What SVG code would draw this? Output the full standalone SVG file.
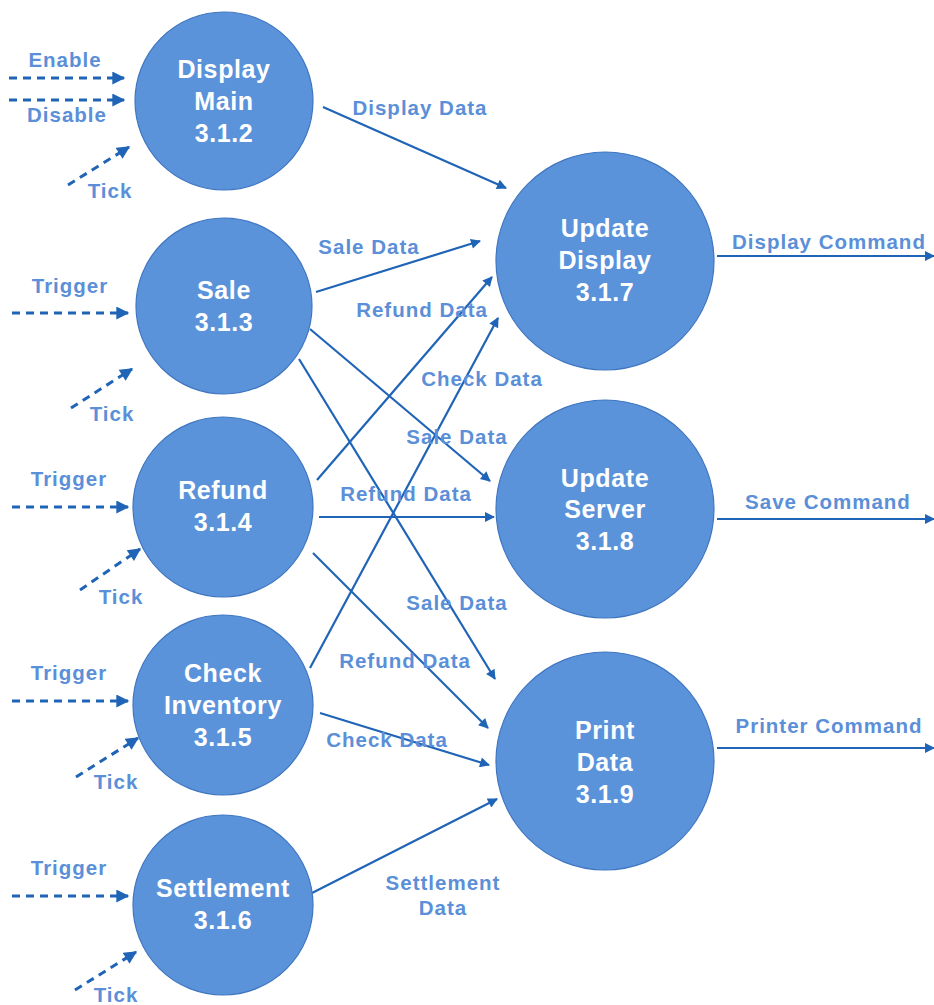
<svg xmlns="http://www.w3.org/2000/svg" width="934" height="1005" viewBox="0 0 934 1005">
<defs>
<style>
.node{fill:#5b93db;stroke:#3f76c0;stroke-width:1.2}
.nt{font-family:"Liberation Sans",Arial,sans-serif;font-weight:bold;font-size:25px;fill:#fff;text-anchor:middle;letter-spacing:0.6px}
.lbl{font-family:"Liberation Sans",Arial,sans-serif;font-weight:bold;font-size:20.5px;fill:#5b8fd8;text-anchor:middle;letter-spacing:1px}
.flow{stroke:#1f64b6;stroke-width:2.2;fill:none;marker-end:url(#ah)}
.dash{stroke:#1f64b6;stroke-width:3;fill:none;stroke-dasharray:8 6;marker-end:url(#ahd)}
</style>
<marker id="ah" viewBox="0 0 10 10" refX="9" refY="5" markerWidth="12" markerHeight="10" markerUnits="userSpaceOnUse" orient="auto"><path d="M0,0 L10,5 L0,10 z" fill="#1f64b6"/></marker>
<marker id="ahd" viewBox="0 0 10 10" refX="9" refY="5" markerWidth="14" markerHeight="13" markerUnits="userSpaceOnUse" orient="auto"><path d="M0,0 L10,5 L0,10 z" fill="#1f64b6"/></marker>
</defs>
<rect width="934" height="1005" fill="#fff"/>
<g id="connectors">
<line class="flow" x1="323" y1="107" x2="506" y2="188"/>
<line class="flow" x1="316" y1="292" x2="480" y2="241"/>
<line class="flow" x1="317" y1="480" x2="492" y2="277"/>
<line class="flow" x1="310" y1="668" x2="498" y2="318"/>
<line class="flow" x1="310" y1="329" x2="490" y2="481"/>
<line class="flow" x1="299" y1="359" x2="495" y2="679"/>
<line class="flow" x1="319" y1="517" x2="494" y2="517"/>
<line class="flow" x1="313" y1="553" x2="488" y2="728"/>
<line class="flow" x1="320" y1="713" x2="489" y2="765"/>
<line class="flow" x1="312" y1="893" x2="497" y2="799"/>
<line class="flow" x1="717" y1="256" x2="934" y2="256"/>
<line class="flow" x1="717" y1="519" x2="934" y2="519"/>
<line class="flow" x1="717" y1="748" x2="934" y2="748"/>
<line class="dash" x1="9" y1="78" x2="124" y2="78"/>
<line class="dash" x1="9" y1="100" x2="124" y2="100"/>
<line class="dash" x1="68" y1="185" x2="129" y2="147"/>
<line class="dash" x1="12" y1="313" x2="128" y2="313"/>
<line class="dash" x1="71" y1="408" x2="132" y2="369"/>
<line class="dash" x1="12" y1="507" x2="128" y2="507"/>
<line class="dash" x1="80" y1="590" x2="140" y2="549"/>
<line class="dash" x1="12" y1="701" x2="128" y2="701"/>
<line class="dash" x1="76" y1="777" x2="138" y2="738"/>
<line class="dash" x1="12" y1="896" x2="128" y2="896"/>
<line class="dash" x1="75" y1="990" x2="136" y2="952"/>
<text class="lbl" x="420" y="115">Display Data</text>
<text class="lbl" x="369" y="254">Sale Data</text>
<text class="lbl" x="422" y="317">Refund Data</text>
<text class="lbl" x="482" y="386">Check Data</text>
<text class="lbl" x="457" y="444">Sale Data</text>
<text class="lbl" x="406" y="501">Refund Data</text>
<text class="lbl" x="457" y="610">Sale Data</text>
<text class="lbl" x="405" y="668">Refund Data</text>
<text class="lbl" x="387" y="747">Check Data</text>
<text class="lbl" x="443" y="890">Settlement</text>
<text class="lbl" x="443" y="915">Data</text>
<text class="lbl" x="829" y="249">Display Command</text>
<text class="lbl" x="828" y="509">Save Command</text>
<text class="lbl" x="829" y="733">Printer Command</text>
<text class="lbl" x="65" y="67">Enable</text>
<text class="lbl" x="67" y="122">Disable</text>
<text class="lbl" x="110" y="198">Tick</text>
<text class="lbl" x="70" y="293">Trigger</text>
<text class="lbl" x="112" y="421">Tick</text>
<text class="lbl" x="69" y="486">Trigger</text>
<text class="lbl" x="121" y="604">Tick</text>
<text class="lbl" x="69" y="680">Trigger</text>
<text class="lbl" x="116" y="789">Tick</text>
<text class="lbl" x="69" y="875">Trigger</text>
<text class="lbl" x="116" y="1002">Tick</text>
</g>
<g id="n312"><circle class="node" cx="224" cy="101" r="89"/><text class="nt" x="224" y="78">Display</text><text class="nt" x="224" y="110">Main</text><text class="nt" x="224" y="142">3.1.2</text></g>
<g id="n313"><circle class="node" cx="224" cy="306" r="88"/><text class="nt" x="224" y="299">Sale</text><text class="nt" x="224" y="331">3.1.3</text></g>
<g id="n314"><circle class="node" cx="223" cy="507" r="90"/><text class="nt" x="223" y="499">Refund</text><text class="nt" x="223" y="531">3.1.4</text></g>
<g id="n315"><circle class="node" cx="223" cy="705" r="90"/><text class="nt" x="223" y="682">Check</text><text class="nt" x="223" y="714">Inventory</text><text class="nt" x="223" y="746">3.1.5</text></g>
<g id="n316"><circle class="node" cx="223" cy="905" r="90"/><text class="nt" x="223" y="897">Settlement</text><text class="nt" x="223" y="929">3.1.6</text></g>
<g id="n317"><circle class="node" cx="605" cy="261" r="109"/><text class="nt" x="605" y="237">Update</text><text class="nt" x="605" y="269">Display</text><text class="nt" x="605" y="301">3.1.7</text></g>
<g id="n318"><circle class="node" cx="605" cy="509" r="109"/><text class="nt" x="605" y="487">Update</text><text class="nt" x="605" y="518">Server</text><text class="nt" x="605" y="550">3.1.8</text></g>
<g id="n319"><circle class="node" cx="605" cy="761" r="109"/><text class="nt" x="605" y="739">Print</text><text class="nt" x="605" y="771">Data</text><text class="nt" x="605" y="803">3.1.9</text></g>
</svg>
